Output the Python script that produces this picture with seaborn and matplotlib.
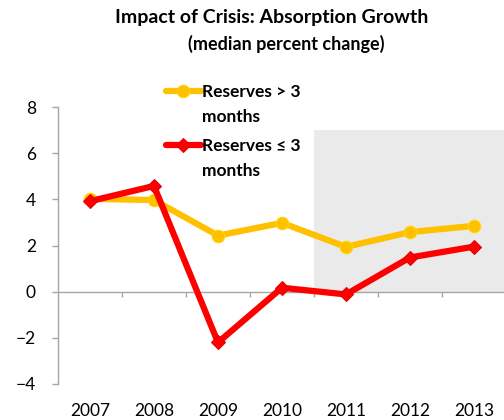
import numpy as np
import pandas as pd
import matplotlib
matplotlib.use("Agg")
import matplotlib.pyplot as plt
from matplotlib.transforms import Affine2D
import seaborn as sns

# ── Data ──────────────────────────────────────────────────────────────────
years = ["2007", "2008", "2009", "2010", "2011", "2012", "2013"]
above_3 = [4.02, 3.97, 2.43, 2.98, 1.94, 2.58, 2.85]
below_3 = [3.92, 4.58, -2.2, 0.17, -0.12, 1.48, 1.95]
series_names = ["Reserves > 3\nmonths", "Reserves \u2264 3\nmonths"]

df = pd.DataFrame({
    "pos": list(range(len(years))) * 2,
    "value": above_3 + below_3,
    "series": [series_names[0]] * len(years) + [series_names[1]] * len(years),
})

sns.set_style("white")
plt.rcParams["font.family"] = ["Lato", "DejaVu Sans"]
plt.rcParams["text.color"] = "black"
plt.rcParams["xtick.color"] = "black"
plt.rcParams["ytick.color"] = "black"

PALETTE = {series_names[0]: "#FFC000", series_names[1]: "#FF0000"}
MARKERS = {series_names[0]: "o", series_names[1]: "D"}
EDGES = {"#ffc000": "#FFD800", "#ff0000": "#E00000"}

fig = plt.figure(figsize=(5.04, 4.2), dpi=100)
ax = fig.add_axes([58 / 504, 36 / 420, 446 / 504, 277 / 420])

# shaded projection region
ax.fill_between([3.5, 6.6], 0, 7, color="#EAEAEA", linewidth=0, zorder=0)
ax.axhline(0, color="#A6A6A6", linewidth=1, zorder=1)
ax.vlines(np.arange(0.5, 6.5, 1), -0.22, 0, color="#A6A6A6", linewidth=1, zorder=1)

sns.lineplot(data=df, x="pos", y="value", hue="series", style="series",
             palette=PALETTE, markers=MARKERS, dashes=False, linewidth=4.5,
             markersize=9, ax=ax, zorder=3)
for l in ax.lines:
    c = matplotlib.colors.to_hex(l.get_color())
    if c in EDGES:
        l.set_markeredgecolor(EDGES[c])
        if c == "#ff0000":
            l.set_markersize(7)

ax.set_xlim(-0.5, 6.47)
ax.set_ylim(-4, 8)
ax.set_yticks([-4, -2, 0, 2, 4, 6, 8])
ax.set_xticks(range(len(years)))
ax.set_xticklabels(years)
ax.tick_params(axis="x", length=0, labelsize=12.5, pad=14)
ax.tick_params(axis="y", length=4, width=1, color="#A6A6A6", labelcolor="black",
               labelsize=12.5, left=True, pad=12)
ax.set_xlabel("")
ax.set_ylabel("")
for side in ["top", "right", "bottom"]:
    ax.spines[side].set_visible(False)
ax.spines["left"].set_color("#A6A6A6")
ax.spines["left"].set_linewidth(1)

handles, labels = ax.get_legend_handles_labels()
leg = ax.legend(handles, labels, loc="upper left", frameon=False,
                bbox_to_anchor=(166 / 504, 1 - 84 / 420), bbox_transform=fig.transFigure,
                borderpad=0, borderaxespad=0, handlelength=2.0, handletextpad=0.1,
                labelspacing=0.75, prop={"weight": "bold", "size": 12.5})
for t in leg.get_texts():
    t.set_linespacing(1.7)
    t.set_color("black")
for h in leg.legend_handles:
    h.set_linewidth(4.5)
    c = matplotlib.colors.to_hex(h.get_color())
    if c in EDGES:
        h.set_markeredgecolor(EDGES[c])
    h.set_transform(h.get_transform() + Affine2D().translate(0, 14))

fig.text(0.54, 1 - 18 / 420, "Impact of Crisis: Absorption Growth",
         ha="center", va="center", fontsize=14, fontweight="bold")
fig.text(0.567, 1 - 44 / 420, "(median percent change)",
         ha="center", va="center", fontsize=13, fontweight="bold")

fig.savefig("out.png", dpi=100)
